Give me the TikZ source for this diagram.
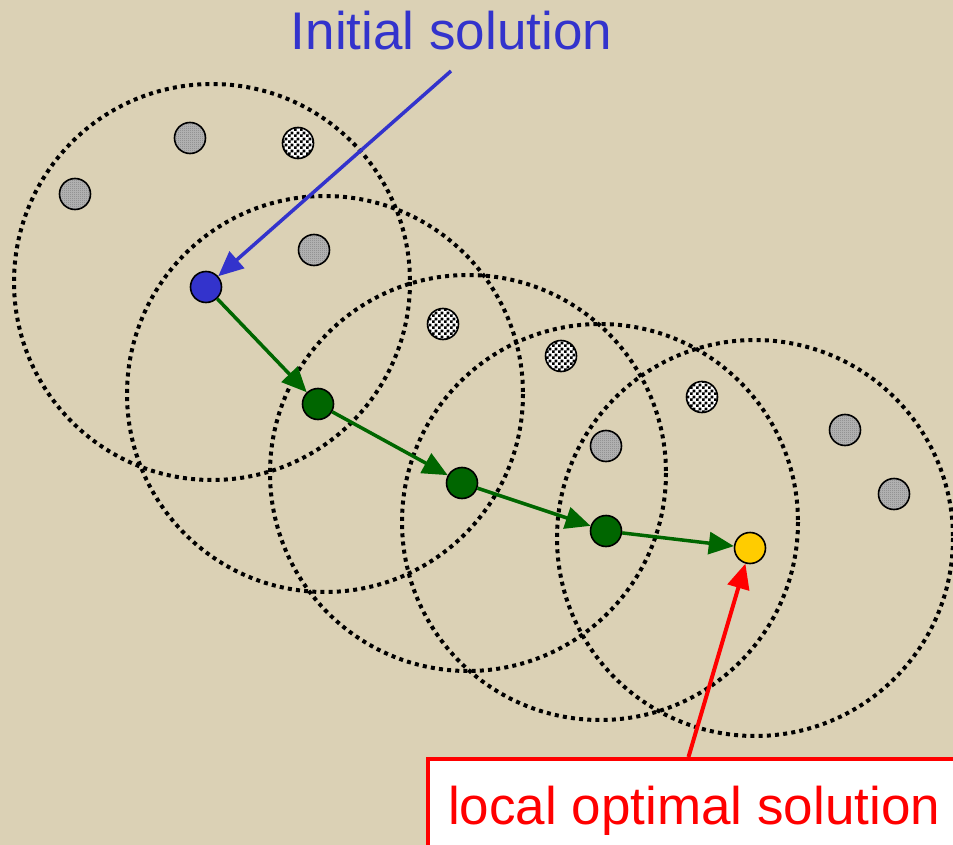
\documentclass[tikz,border=0pt]{standalone}
\usepackage{fontspec}
\setmainfont{Liberation Sans}
\usetikzlibrary{arrows.meta,patterns}
\pgfdeclarepatternformonly{bigcheck}{\pgfpointorigin}{\pgfqpoint{6pt}{6pt}}{\pgfqpoint{6pt}{6pt}}{%
  \pgfpathrectangle{\pgfpointorigin}{\pgfqpoint{3pt}{3pt}}%
  \pgfpathrectangle{\pgfqpoint{3pt}{3pt}}{\pgfqpoint{3pt}{3pt}}%
  \pgfusepath{fill}}
\pgfdeclarepatternformonly{smallcheck}{\pgfpointorigin}{\pgfqpoint{2pt}{2pt}}{\pgfqpoint{2pt}{2pt}}{%
  \pgfpathrectangle{\pgfpointorigin}{\pgfqpoint{1pt}{1pt}}%
  \pgfpathrectangle{\pgfqpoint{1pt}{1pt}}{\pgfqpoint{1pt}{1pt}}%
  \pgfusepath{fill}}
\definecolor{bg}{RGB}{219,209,181}
\definecolor{sblue}{RGB}{51,51,204}
\definecolor{sgreen}{RGB}{0,102,0}
\definecolor{syellow}{RGB}{255,204,0}
\tikzset{
  nbhd/.style={draw=black, line width=4pt, dash pattern=on 4pt off 4.2pt},
  sol/.style={circle, draw=black, line width=1.6pt, minimum size=31pt, inner sep=0pt},
  finedot/.style={sol, preaction={fill=black!28}, pattern=smallcheck, pattern color=black!50},
  coarsedot/.style={sol, preaction={fill=white}, pattern=bigcheck, pattern color=black},
  startsol/.style={sol, fill=sblue},
  movesol/.style={sol, fill=sgreen},
  bestsol/.style={sol, fill=syellow},
  tip/.style={-{Triangle[length=25pt,width=22pt]}},
  move/.style={tip, draw=sgreen, fill=sgreen, line width=3.5pt},
  bluearrow/.style={tip, draw=sblue, fill=sblue, line width=3.5pt},
  redarrow/.style={tip, draw=red, fill=red, line width=4pt},
  bigtext/.style={font=\fontsize{53pt}{60pt}\selectfont, inner sep=0pt}
}
\begin{document}
\begin{tikzpicture}[x=1pt,y=-1pt]
  \path[use as bounding box, fill=bg] (0,0) rectangle (953,845);
  \clip (0,0) rectangle (953,845);
  % neighbourhoods
  \draw[nbhd] (212,282) circle[radius=198];
  \draw[nbhd] (325,394) circle[radius=198];
  \draw[nbhd] (468,473) circle[radius=198];
  \draw[nbhd] (600,522) circle[radius=198];
  \draw[nbhd] (755,538) circle[radius=198];
  % neighbour solutions
  \node[finedot] (f1) at (75,194) {};
  \node[finedot] (f2) at (190,138) {};
  \node[finedot] (f3) at (314,250) {};
  \node[finedot] (f4) at (606,446) {};
  \node[finedot] (f5) at (845,430) {};
  \node[finedot] (f6) at (894,494) {};
  \node[coarsedot] (c1) at (298,143) {};
  \node[coarsedot] (c2) at (443,324) {};
  \node[coarsedot] (c3) at (561,356) {};
  \node[coarsedot] (c4) at (702,397) {};
  % path of solutions
  \node[startsol] (s0) at (206,287) {};
  \node[movesol] (s1) at (318,404) {};
  \node[movesol] (s2) at (462,483) {};
  \node[movesol] (s3) at (606,531) {};
  \node[bestsol] (s4) at (750,548) {};
  \draw[move] (s0) -- (s1);
  \draw[move] (s1) -- (s2);
  \draw[move] (s2) -- (s3);
  \draw[move] (s3) -- (s4);
  % labels
  \node[bigtext, text=sblue, anchor=base] (init) at (451.5,49.5) {Initial solution};
  \coordinate (initend) at (451,71);
  \draw[bluearrow] (initend) -- (s0);
  \node[draw=red, line width=4pt, fill=white, anchor=north west,
        minimum width=560pt, minimum height=120pt] (lbox) at (426,757) {};
  \node[bigtext, text=red, anchor=base west] (ltext) at (448,824.5) {local optimal solution};
  \coordinate (redstart) at (688.5,757);
  \draw[redarrow] (redstart) -- (s4);
\end{tikzpicture}
\end{document}
